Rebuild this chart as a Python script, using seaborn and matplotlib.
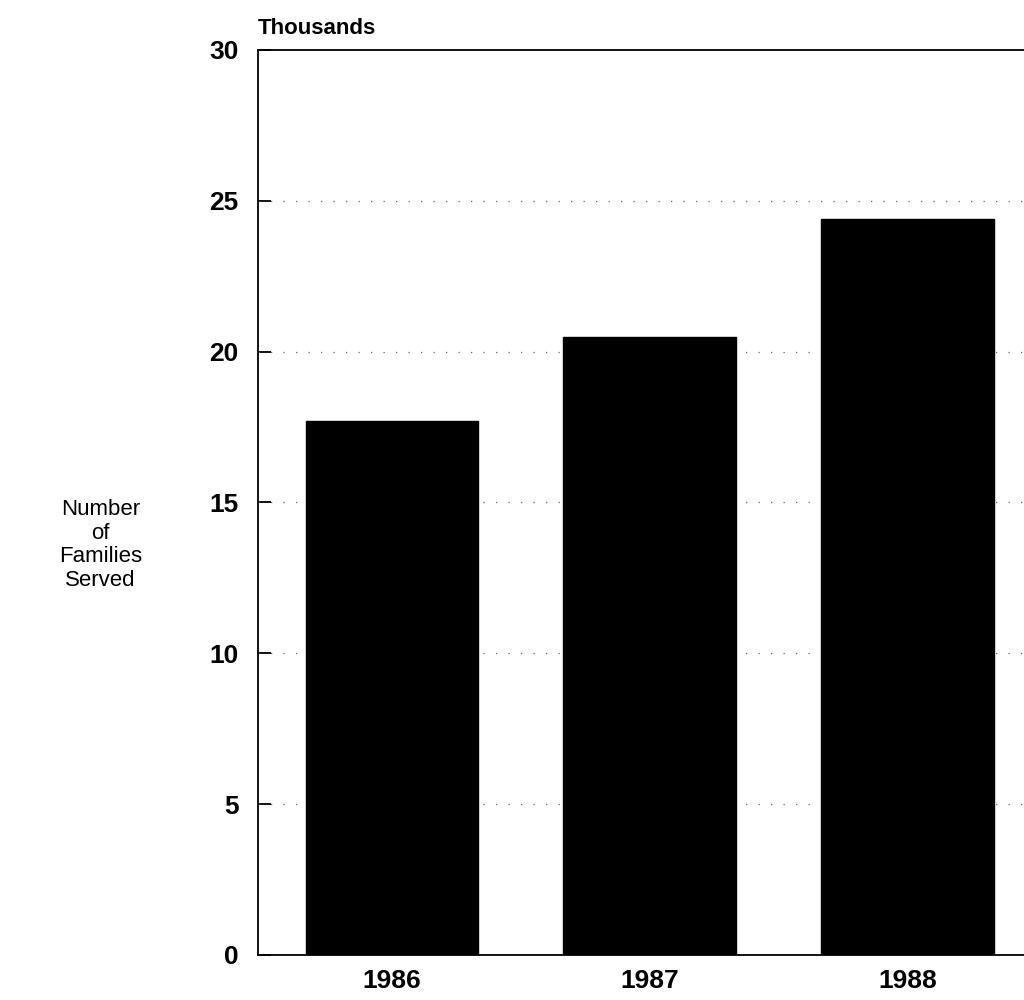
import matplotlib

matplotlib.use("Agg")
import matplotlib.pyplot as plt
import pandas as pd
import seaborn as sns

years = ["1986", "1987", "1988"]
families_thousands = [17.7, 20.5, 24.4]
y_ticks = [0, 5, 10, 15, 20, 25, 30]

sns.set_theme(style="white")
plt.rcParams["font.family"] = ["Liberation Sans", "DejaVu Sans"]
plt.rcParams["text.color"] = "black"

df = pd.DataFrame({"year": years, "families": families_thousands})

fig = plt.figure(figsize=(10.24, 10), dpi=100)
ax = fig.add_axes([0.252, 0.045, 0.75, 0.905])

sns.barplot(data=df, x="year", y="families", color="black", saturation=1,
            width=0.67, edgecolor="black", ax=ax, zorder=2)

ax.set_ylim(0, 30)
ax.set_xlim(-0.52, 2.46)
ax.set_yticks(y_ticks)
ax.set_yticklabels([str(t) for t in y_ticks], fontsize=19, fontweight="bold",
                   color="black")
for lbl in ax.get_xticklabels():
    lbl.set_fontsize(19)
    lbl.set_fontweight("bold")
    lbl.set_color("black")
ax.tick_params(axis="y", direction="in", length=9, width=1.3, pad=14,
               left=True, colors="black")
ax.tick_params(axis="x", length=0, pad=10)

for t in y_ticks[1:-1]:
    ax.axhline(t, color="#666666", lw=0.9, linestyle=(0, (1, 9)), zorder=1)

for side in ["left", "top", "bottom"]:
    ax.spines[side].set_visible(True)
    ax.spines[side].set_color("black")
    ax.spines[side].set_linewidth(1.3)
ax.spines["right"].set_visible(False)

ax.set_xlabel("")
ax.set_ylabel("")
ax.text(0.0, 1.012, "Thousands", transform=ax.transAxes, fontsize=16,
        fontweight="bold", ha="left", va="bottom")
fig.text(0.098, 0.455, "Number\nof\nFamilies\nServed", fontsize=16,
         ha="center", va="center", linespacing=1.15)

fig.savefig("out.png", dpi=100)
plt.close(fig)
